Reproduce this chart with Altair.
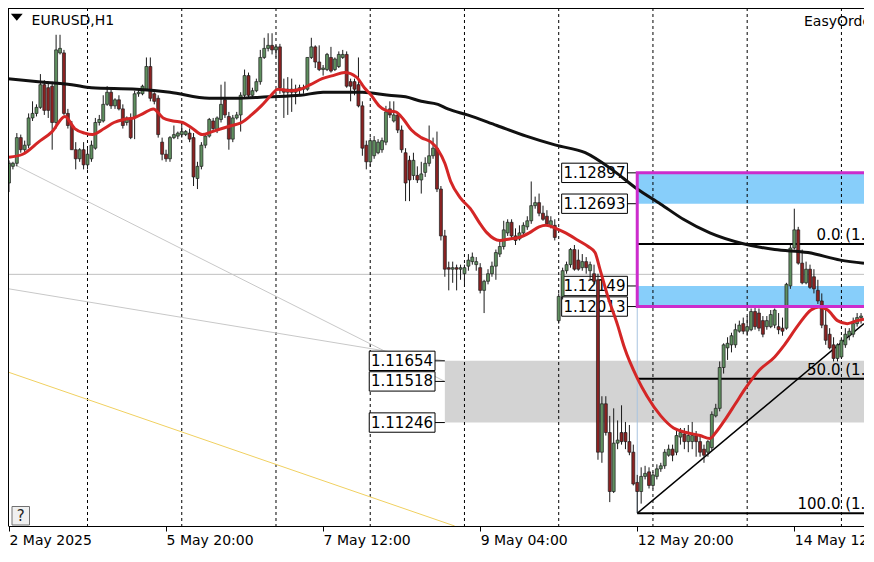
import json
import altair as alt
import pandas as pd

# ---------------- data (EURUSD, H1) ----------------
opens = [
    1.1283, 1.1294, 1.1296, 1.1313, 1.1305, 1.1308, 1.1326, 1.1329, 1.1333, 1.1348,
    1.1346, 1.1347, 1.1323, 1.1369, 1.1369, 1.1329, 1.1321, 1.1305, 1.1299, 1.1305,
    1.1295, 1.1299, 1.1306, 1.1323, 1.1324, 1.1335, 1.1343, 1.1334, 1.1338, 1.1332,
    1.1323, 1.1326, 1.1327, 1.1342, 1.1342, 1.1345, 1.1360, 1.1342, 1.1339, 1.1310,
    1.1302, 1.1299, 1.1313, 1.1314, 1.1315, 1.1315, 1.1316, 1.1313, 1.1286, 1.1294,
    1.1308, 1.1314, 1.1324, 1.1318, 1.1325, 1.1338, 1.1327, 1.1312, 1.1326, 1.1328,
    1.1341, 1.1354, 1.1341, 1.1344, 1.1350, 1.1366, 1.1372, 1.1374, 1.1371, 1.1373,
    1.1345, 1.1343, 1.1345, 1.1343, 1.1345, 1.1345, 1.1345, 1.1366, 1.1373, 1.1363,
    1.1358, 1.1358, 1.1366, 1.1358, 1.1360, 1.1366, 1.1368, 1.1350, 1.1350, 1.1348,
    1.1334, 1.1308, 1.1297, 1.1301, 1.1303, 1.1305, 1.1310, 1.1332, 1.1324, 1.1328,
    1.1318, 1.1303, 1.1298, 1.1288, 1.1288, 1.1285, 1.1290, 1.1296, 1.1301, 1.1306,
    1.1279, 1.1248, 1.1227, 1.1226, 1.1227, 1.1226, 1.1223, 1.1228, 1.1231, 1.1229,
    1.1227, 1.1212, 1.1218, 1.1223, 1.1228, 1.1236, 1.1241, 1.1250, 1.1257, 1.1248,
    1.1246, 1.1250, 1.1254, 1.1258, 1.1268, 1.1270, 1.1263, 1.1261, 1.1255, 1.1255,
    1.1192, 1.1208, 1.1225, 1.1229, 1.1239, 1.1232, 1.1227, 1.1231, 1.1225, 1.1223,
    1.1219, 1.1105, 1.1137, 1.1118, 1.1079, 1.1111, 1.1118, 1.1118, 1.1112, 1.1105,
    1.1085, 1.1079, 1.1089, 1.1092, 1.1083, 1.1089, 1.1094, 1.1096, 1.1103, 1.1107,
    1.1105, 1.1115, 1.1117, 1.1112, 1.1112, 1.1116, 1.1112, 1.1107, 1.1105, 1.1108,
    1.1129, 1.1134, 1.1161, 1.1174, 1.1176, 1.1176, 1.1185, 1.1190, 1.1185, 1.1186,
    1.1198, 1.1197, 1.1192, 1.1188, 1.1188, 1.1189, 1.1188, 1.1187, 1.1187, 1.1215,
    1.1240, 1.1252, 1.1230, 1.1217, 1.1226, 1.1221, 1.1212, 1.1205, 1.1189, 1.1183,
    1.1176, 1.1167, 1.1168, 1.1176, 1.1182, 1.1183, 1.1190, 1.1194,
]
highs = [
    1.1298, 1.1297, 1.1316, 1.1315, 1.1311, 1.1329, 1.1337, 1.1335, 1.1355, 1.1351,
    1.1350, 1.1350, 1.1381, 1.1381, 1.1371, 1.1332, 1.1324, 1.1310, 1.1306, 1.1310,
    1.1306, 1.1311, 1.1326, 1.1328, 1.1341, 1.1347, 1.1345, 1.1339, 1.1341, 1.1335,
    1.1327, 1.1329, 1.1344, 1.1345, 1.1348, 1.1366, 1.1366, 1.1343, 1.1341, 1.1313,
    1.1305, 1.1314, 1.1321, 1.1317, 1.1323, 1.1318, 1.1319, 1.1316, 1.1297, 1.1310,
    1.1316, 1.1326, 1.1326, 1.1327, 1.1348, 1.1350, 1.1330, 1.1328, 1.1330, 1.1343,
    1.1358, 1.1356, 1.1346, 1.1352, 1.1371, 1.1379, 1.1382, 1.1382, 1.1374, 1.1375,
    1.1352, 1.1353, 1.1352, 1.1348, 1.1348, 1.1348, 1.1366, 1.1379, 1.1374, 1.1374,
    1.1361, 1.1369, 1.1373, 1.1366, 1.1370, 1.1371, 1.1370, 1.1352, 1.1352, 1.1366,
    1.1337, 1.1311, 1.1313, 1.1314, 1.1312, 1.1313, 1.1334, 1.1337, 1.1337, 1.1330,
    1.1321, 1.1306, 1.1301, 1.1303, 1.1294, 1.1297, 1.1300, 1.1321, 1.1313, 1.1317,
    1.1281, 1.1252, 1.1231, 1.1231, 1.1229, 1.1229, 1.1229, 1.1236, 1.1237, 1.1234,
    1.1230, 1.1219, 1.1226, 1.1231, 1.1239, 1.1245, 1.1258, 1.1259, 1.1259, 1.1253,
    1.1255, 1.1257, 1.1261, 1.1284, 1.1274, 1.1276, 1.1268, 1.1265, 1.1261, 1.1259,
    1.1210, 1.1227, 1.1231, 1.1240, 1.1242, 1.1239, 1.1236, 1.1234, 1.1231, 1.1229,
    1.1223, 1.1142, 1.1142, 1.1129, 1.1134, 1.1126, 1.1136, 1.1125, 1.1123, 1.1110,
    1.1090, 1.1095, 1.1096, 1.1095, 1.1092, 1.1097, 1.1098, 1.1107, 1.1110, 1.1110,
    1.1119, 1.1121, 1.1121, 1.1123, 1.1125, 1.1119, 1.1116, 1.1110, 1.1113, 1.1132,
    1.1137, 1.1165, 1.1177, 1.1181, 1.1184, 1.1190, 1.1192, 1.1194, 1.1195, 1.1200,
    1.1201, 1.1200, 1.1195, 1.1195, 1.1199, 1.1200, 1.1197, 1.1194, 1.1217, 1.1242,
    1.1266, 1.1254, 1.1239, 1.1231, 1.1229, 1.1226, 1.1219, 1.1210, 1.1200, 1.1187,
    1.1181, 1.1177, 1.1181, 1.1187, 1.1187, 1.1194, 1.1197, 1.1197,
]
lows = [
    1.1277, 1.1292, 1.1294, 1.1303, 1.1302, 1.1306, 1.1324, 1.1327, 1.1332, 1.1328,
    1.1326, 1.1305, 1.1319, 1.1368, 1.1328, 1.1319, 1.1305, 1.1292, 1.1297, 1.1292,
    1.1292, 1.1297, 1.1305, 1.1321, 1.1323, 1.1334, 1.1332, 1.1332, 1.1331, 1.1319,
    1.1321, 1.1312, 1.1312, 1.1340, 1.1341, 1.1344, 1.1337, 1.1335, 1.1313, 1.1298,
    1.1297, 1.1297, 1.1312, 1.1312, 1.1313, 1.1314, 1.1310, 1.1281, 1.1279, 1.1292,
    1.1306, 1.1313, 1.1317, 1.1316, 1.1323, 1.1326, 1.1305, 1.1310, 1.1325, 1.1317,
    1.1339, 1.1339, 1.1339, 1.1343, 1.1348, 1.1365, 1.1370, 1.1368, 1.1366, 1.1342,
    1.1326, 1.1328, 1.1330, 1.1335, 1.1341, 1.1342, 1.1344, 1.1365, 1.1359, 1.1357,
    1.1354, 1.1357, 1.1356, 1.1357, 1.1359, 1.1365, 1.1346, 1.1337, 1.1341, 1.1333,
    1.1301, 1.1292, 1.1294, 1.1299, 1.1302, 1.1303, 1.1308, 1.1326, 1.1323, 1.1316,
    1.1303, 1.1271, 1.1271, 1.1285, 1.1283, 1.1276, 1.1287, 1.1294, 1.1299, 1.1277,
    1.1245, 1.1221, 1.1212, 1.1217, 1.1212, 1.1219, 1.1216, 1.1225, 1.1229, 1.1225,
    1.1210, 1.1197, 1.1216, 1.1221, 1.1219, 1.1234, 1.1239, 1.1248, 1.1246, 1.1242,
    1.1245, 1.1248, 1.1252, 1.1256, 1.1266, 1.1261, 1.1258, 1.1255, 1.1253, 1.1245,
    1.1190, 1.1206, 1.1223, 1.1227, 1.1225, 1.1225, 1.1225, 1.1223, 1.1219, 1.1216,
    1.1100, 1.1098, 1.1116, 1.1072, 1.1078, 1.1107, 1.1110, 1.1107, 1.1103, 1.1083,
    1.1065, 1.1071, 1.1087, 1.1081, 1.1081, 1.1087, 1.1092, 1.1094, 1.1102, 1.1099,
    1.1103, 1.1110, 1.1107, 1.1105, 1.1107, 1.1102, 1.1102, 1.1098, 1.1102, 1.1106,
    1.1128, 1.1132, 1.1157, 1.1166, 1.1171, 1.1174, 1.1184, 1.1183, 1.1182, 1.1185,
    1.1186, 1.1185, 1.1181, 1.1186, 1.1187, 1.1187, 1.1183, 1.1182, 1.1186, 1.1213,
    1.1239, 1.1229, 1.1216, 1.1216, 1.1213, 1.1210, 1.1203, 1.1187, 1.1176, 1.1173,
    1.1165, 1.1165, 1.1167, 1.1174, 1.1179, 1.1181, 1.1188, 1.1190,
]
closes = [
    1.1296, 1.1296, 1.1313, 1.1305, 1.1308, 1.1326, 1.1329, 1.1333, 1.1348, 1.1331,
    1.1331, 1.1323, 1.1371, 1.1372, 1.1329, 1.1321, 1.1305, 1.1299, 1.1305, 1.1295,
    1.1302, 1.1308, 1.1323, 1.1325, 1.1335, 1.1343, 1.1334, 1.1338, 1.1332, 1.1321,
    1.1326, 1.1313, 1.1342, 1.1343, 1.1347, 1.1360, 1.1339, 1.1337, 1.1315, 1.1302,
    1.1299, 1.1313, 1.1315, 1.1316, 1.1317, 1.1317, 1.1312, 1.1287, 1.1294, 1.1308,
    1.1314, 1.1325, 1.1319, 1.1326, 1.1335, 1.1328, 1.1312, 1.1326, 1.1328, 1.1341,
    1.1354, 1.1341, 1.1344, 1.1350, 1.1366, 1.1372, 1.1374, 1.1371, 1.1373, 1.1346,
    1.1343, 1.1345, 1.1343, 1.1345, 1.1346, 1.1346, 1.1366, 1.1373, 1.1363, 1.1358,
    1.1359, 1.1368, 1.1357, 1.1365, 1.1368, 1.1368, 1.1347, 1.1347, 1.1345, 1.1334,
    1.1306, 1.1297, 1.1311, 1.1311, 1.1310, 1.1311, 1.1330, 1.1328, 1.1328, 1.1318,
    1.1305, 1.1283, 1.1285, 1.1298, 1.1285, 1.1289, 1.1296, 1.1301, 1.1306, 1.1279,
    1.1248, 1.1226, 1.1226, 1.1227, 1.1226, 1.1227, 1.1227, 1.1232, 1.1234, 1.1231,
    1.1212, 1.1218, 1.1223, 1.1228, 1.1237, 1.1241, 1.1252, 1.1257, 1.1248, 1.1245,
    1.1250, 1.1255, 1.1258, 1.1268, 1.1270, 1.1263, 1.1259, 1.1256, 1.1258, 1.1247,
    1.1208, 1.1225, 1.1229, 1.1239, 1.1226, 1.1226, 1.1231, 1.1227, 1.1229, 1.1218,
    1.1105, 1.1137, 1.1118, 1.1079, 1.1111, 1.1113, 1.1112, 1.1112, 1.1105, 1.1084,
    1.1079, 1.1089, 1.1091, 1.1083, 1.1090, 1.1094, 1.1096, 1.1105, 1.1107, 1.1103,
    1.1116, 1.1118, 1.1112, 1.1116, 1.1116, 1.1112, 1.1105, 1.1103, 1.1112, 1.1130,
    1.1134, 1.1161, 1.1176, 1.1177, 1.1182, 1.1186, 1.1189, 1.1185, 1.1188, 1.1198,
    1.1188, 1.1187, 1.1183, 1.1192, 1.1196, 1.1199, 1.1186, 1.1185, 1.1216, 1.1240,
    1.1252, 1.1230, 1.1217, 1.1226, 1.1214, 1.1213, 1.1205, 1.1189, 1.1179, 1.1174,
    1.1167, 1.1176, 1.1179, 1.1183, 1.1185, 1.1190, 1.1194, 1.1195,
]

time_tick_bars = [0, 40, 80, 120, 160, 200]
time_tick_labels = ["2 May 2025", "5 May 20:00", "7 May 12:00", "9 May 04:00",
                    "12 May 20:00", "14 May 12:00"]
day_separator_bars = [20, 44, 68, 92, 116, 140, 164, 188, 212]

fast_ma_bars = [0, 3.5, 7.5, 11, 14.25, 16.75, 19.25, 21.25, 24.25, 26.75, 29.25, 31.75,
                34.25, 36.75, 39.25, 41.75, 44.25, 46.75, 49.25, 51.75, 54.25, 56.75,
                59.25, 61.75, 64.25, 66.75, 68.5, 71.75, 74.25, 76.75, 79.75, 82.5, 85.5,
                88.5, 90.5, 92.25, 94.25, 96, 98.5, 100.5, 102.5, 105, 107.5, 109.25, 111,
                112.5, 115, 117.5, 120, 121.75, 125, 127.5, 130, 132.5, 135, 136.75,
                139.25, 141.75, 145, 147.5, 149.25, 150.5, 152.5, 155, 156.75, 160,
                162.5, 166, 169.25, 172.5, 176, 178.5, 180, 182.5, 185, 187.5, 191, 195,
                197.5, 201, 204.25, 206.25, 208.5, 211, 213.5, 216, 217.75]
fast_ma_prices = [1.1300, 1.1302, 1.1310, 1.1317, 1.1327, 1.1319, 1.1316, 1.1315, 1.1319,
                  1.1323, 1.1325, 1.1326, 1.1329, 1.1332, 1.1326, 1.1324, 1.1323, 1.1319,
                  1.1315, 1.1317, 1.1319, 1.1321, 1.1323, 1.1328, 1.1334, 1.1341, 1.1345,
                  1.1344, 1.1345, 1.1348, 1.1352, 1.1354, 1.1356, 1.1353, 1.1346, 1.1341,
                  1.1334, 1.1331, 1.1330, 1.1325, 1.1318, 1.1313, 1.1310, 1.1305, 1.1296,
                  1.1284, 1.1273, 1.1266, 1.1256, 1.1250, 1.1245, 1.1246, 1.1247, 1.1250,
                  1.1254, 1.1255, 1.1253, 1.1250, 1.1245, 1.1241, 1.1237, 1.1226, 1.1208,
                  1.1189, 1.1174, 1.1154, 1.1142, 1.1129, 1.1121, 1.1118, 1.1116, 1.1114,
                  1.1118, 1.1127, 1.1137, 1.1147, 1.1159, 1.1168, 1.1176, 1.1189, 1.1199,
                  1.1201, 1.1199, 1.1192, 1.1190, 1.1192, 1.1193]
slow_ma_bars = [-0.25, 7.5, 16, 21, 32.5, 41, 51, 57.5, 66, 74.25, 80, 85, 90, 96.75, 101,
                105, 109.25, 111.75, 116.75, 124.25, 131.75, 139.25, 146.75, 153.5, 160,
                166, 171.75, 178.5, 186.75, 195, 203.5, 211.75, 217.75]
slow_ma_prices = [1.1352, 1.1350, 1.1348, 1.1346, 1.1345, 1.1343, 1.1339, 1.1339, 1.1340,
                  1.1341, 1.1343, 1.1343, 1.1343, 1.1341, 1.1340, 1.1337, 1.1335, 1.1332,
                  1.1328, 1.1321, 1.1314, 1.1308, 1.1303, 1.1292, 1.1279, 1.1269, 1.1259,
                  1.1250, 1.1243, 1.1239, 1.1237, 1.1232, 1.1230]

upper_zone_prices = [1.12897, 1.12693, 1.12149, 1.12013]
lower_zone_prices = [1.11654, 1.11518, 1.11246]
fib_names = ["0.0", "50.0", "100.0"]
fib_prices = [1.12426, 1.11536, 1.10646]
bid_line_price = 1.12226

# helper drawing objects (start bar, start price, end bar, end price)
gray_line_bar1 = [0, 0]
gray_line_price1 = [1.1297, 1.1213]
gray_line_bar2 = [111, 111]
gray_line_price2 = [1.11518, 1.11654]
yellow_line = [-0.25, 1.1158, 113.5, 1.10562]
trend_line = [160, 1.10646, 217.75, 1.1190]

# ---------------- layout ----------------
FONT = "DejaVu Sans"
W, H = 856, 518
FIB_START = 160
UPPER_ZONE_START = 160
LOWER_ZONE_START = 111
FAR_RIGHT = 240

xs = alt.Scale(domain=[-0.25, 217.75], nice=False, zero=False)
ys = alt.Scale(domain=[1.10562, 1.13987], nice=False, zero=False)

label_expr = "{}[indexof({}, datum.value)]".format(
    json.dumps(time_tick_labels).replace('"', "'"), json.dumps(time_tick_bars))
xaxis = alt.Axis(values=time_tick_bars, labelExpr=label_expr, title=None, grid=False,
                 domain=True, domainColor="black", domainWidth=1, ticks=True,
                 tickColor="black", tickSize=5, tickWidth=1, labelAlign="left",
                 labelBaseline="top", labelPadding=2, labelFont=FONT, labelFontSize=14,
                 labelColor="black", labelFlush=False, labelOverlap=False)


def X(f):
    return alt.X(f, type="quantitative", scale=xs, axis=xaxis)


def Y(f):
    return alt.Y(f, type="quantitative", scale=ys, axis=None)


candles = pd.DataFrame({"bar": list(range(len(opens))), "open": opens, "high": highs,
                        "low": lows, "close": closes})
candles["left"] = candles["bar"] - 0.38
candles["right"] = candles["bar"] + 0.38

one = pd.DataFrame({"a": [0]})

# zones
lower_zone = alt.Chart(pd.DataFrame({"x": [LOWER_ZONE_START], "x2": [FAR_RIGHT],
                                     "y": [lower_zone_prices[0]], "y2": [lower_zone_prices[2]]})
                       ).mark_rect(color="#d3d3d3", clip=True).encode(
    x=X("x"), x2="x2", y=Y("y"), y2="y2")
blue_bands = alt.Chart(pd.DataFrame({"x": [UPPER_ZONE_START] * 2, "x2": [FAR_RIGHT] * 2,
                                     "y": [upper_zone_prices[0], upper_zone_prices[2]],
                                     "y2": [upper_zone_prices[1], upper_zone_prices[3]]})
                       ).mark_rect(color="#87cefa", clip=True).encode(
    x=X("x"), x2="x2", y=Y("y"), y2="y2")

bid_line = alt.Chart(pd.DataFrame({"p": [bid_line_price]})).mark_rule(
    color="#c0c0c0", strokeWidth=1).encode(y=Y("p"))

separators = alt.Chart(pd.DataFrame({"bar": day_separator_bars})).mark_rule(
    color="black", strokeWidth=1, strokeDash=[3, 3]).encode(x=X("bar"))

gray_lines = alt.Chart(pd.DataFrame({"x": gray_line_bar1, "y": gray_line_price1,
                                     "x2": gray_line_bar2, "y2": gray_line_price2})
                       ).mark_rule(color="#c8c8c8", strokeWidth=1).encode(
    x=X("x"), y=Y("y"), x2="x2", y2="y2")
yellow = alt.Chart(pd.DataFrame({"x": [yellow_line[0]], "y": [yellow_line[1]],
                                 "x2": [yellow_line[2]], "y2": [yellow_line[3]]})
                   ).mark_rule(color="#f0d060", strokeWidth=1, clip=True).encode(
    x=X("x"), y=Y("y"), x2="x2", y2="y2")

vline = alt.Chart(pd.DataFrame({"x": [FIB_START], "y": [upper_zone_prices[3]],
                                "y2": [fib_prices[2]]})).mark_rule(
    color="#a8c4e0", strokeWidth=1).encode(x=X("x"), y=Y("y"), y2="y2")

# price label boxes
HALF = 0.00064
box_rows = []
for p in upper_zone_prices:
    box_rows.append({"x": 140.75, "x2": 157.5, "c2": UPPER_ZONE_START, "p": p})
for p in lower_zone_prices:
    box_rows.append({"x": 91.75, "x2": 108.5, "c2": LOWER_ZONE_START, "p": p})
boxes = pd.DataFrame(box_rows)
boxes["top"] = boxes["p"] + HALF
boxes["bottom"] = boxes["p"] - HALF
boxes["tx"] = boxes["x"] + 0.45
boxes["label"] = boxes["p"].map(lambda v: f"{v:.5f}")

box_rects = alt.Chart(boxes).mark_rect(fill="white", stroke="black", strokeWidth=1).encode(
    x=X("x"), x2="x2", y=Y("top"), y2="bottom")
box_conn = alt.Chart(boxes).mark_rule(color="black", strokeWidth=1).encode(
    x=X("x2"), x2="c2", y=Y("p"))
box_text = alt.Chart(boxes).mark_text(align="left", baseline="middle", font=FONT,
                                      fontSize=15, color="black").encode(
    x=X("tx"), y=Y("p"), text="label")

# fibonacci + trend line
fib = pd.DataFrame({"name": fib_names, "p": fib_prices})
fib["x"] = FIB_START
fib["x2"] = FAR_RIGHT
fib["tx"] = 231.75
fib["label"] = [f"{n} ({v:.5f})" for n, v in zip(fib_names, fib_prices)]
fib_lines = alt.Chart(fib).mark_rule(color="black", strokeWidth=2, clip=True).encode(
    x=X("x"), x2="x2", y=Y("p"))
fib_text = alt.Chart(fib).mark_text(align="right", baseline="bottom", dy=-1, font=FONT,
                                    fontSize=15, color="black", clip=True).encode(
    x=X("tx"), y=Y("p"), text="label")
trend = alt.Chart(pd.DataFrame({"x": [trend_line[0]], "y": [trend_line[1]],
                                "x2": [trend_line[2]], "y2": [trend_line[3]]})
                  ).mark_rule(color="black", strokeWidth=1.5).encode(
    x=X("x"), y=Y("y"), x2="x2", y2="y2")

# candles
wicks = alt.Chart(candles).mark_rule(color="#1a1a1a", strokeWidth=1).encode(
    x=X("bar"), y=Y("low"), y2="high")
bodies = alt.Chart(candles).mark_rect(stroke="#1e1e1e", strokeWidth=0.7).encode(
    x=X("left"), x2="right", y=Y("open"), y2="close",
    color=alt.condition("datum.close >= datum.open", alt.value("#5f8f5f"),
                        alt.value("#8b2222")))

# moving averages
slow_ma = alt.Chart(pd.DataFrame({"bar": slow_ma_bars, "p": slow_ma_prices})).mark_line(
    color="#111111", strokeWidth=3, interpolate="monotone").encode(x=X("bar"), y=Y("p"))
fast_ma = alt.Chart(pd.DataFrame({"bar": fast_ma_bars, "p": fast_ma_prices})).mark_line(
    color="#d42626", strokeWidth=3, interpolate="monotone").encode(x=X("bar"), y=Y("p"))

magenta = alt.Chart(pd.DataFrame({"x": [UPPER_ZONE_START], "x2": [FAR_RIGHT],
                                  "y": [upper_zone_prices[0]], "y2": [upper_zone_prices[3]]})
                    ).mark_rect(fill="white", fillOpacity=0, stroke="#cc2ccc", strokeWidth=3,
                                clip=True).encode(x=X("x"), x2="x2", y=Y("y"), y2="y2")

# header / decorations
tri = alt.Chart(one).mark_point(shape="M-1,-0.6L1,-0.6L0,0.6Z", filled=True, color="black",
                                size=140, opacity=1).encode(x=alt.value(8.8), y=alt.value(9.3))
title_txt = alt.Chart(one).mark_text(align="left", baseline="middle", font=FONT, fontSize=14,
                                     color="black").encode(
    x=alt.value(23.6), y=alt.value(12.7), text=alt.value("EURUSD,H1"))
ea_txt = alt.Chart(one).mark_text(align="left", baseline="middle", font=FONT, fontSize=14,
                                  color="black").encode(
    x=alt.value(796), y=alt.value(14.1), text=alt.value("EasyOrder"))
qbox = alt.Chart(one).mark_rect(fill="#f0f0f0", stroke="#707070", strokeWidth=1).encode(
    x=alt.value(4), x2=alt.value(21.5), y=alt.value(498.5), y2=alt.value(517))
qtxt = alt.Chart(one).mark_text(align="center", baseline="middle", font=FONT, fontSize=15,
                                color="#222222").encode(
    x=alt.value(12.8), y=alt.value(508), text=alt.value("?"))
frame_left = alt.Chart(one).mark_rule(color="black", strokeWidth=1).encode(
    x=alt.value(0.5), y=alt.value(0), y2=alt.value(H))
frame_top = alt.Chart(one).mark_rule(color="black", strokeWidth=1).encode(
    y=alt.value(0.5), x=alt.value(0), x2=alt.value(W))

chart = alt.layer(
    lower_zone, blue_bands, bid_line, separators, gray_lines, yellow, vline,
    box_rects, box_conn, box_text, fib_lines, trend,
    wicks, bodies, slow_ma, fast_ma, magenta, fib_text,
    tri, title_txt, ea_txt, qbox, qtxt, frame_left, frame_top,
).properties(
    width=W, height=H,
    autosize=alt.AutoSizeParams(type="none"),
    padding={"left": 0, "top": 0, "right": 0, "bottom": 22},
    background="white",
).configure_view(stroke=None)

chart.save("out.html", embed_options={"renderer": "svg", "actions": False})
